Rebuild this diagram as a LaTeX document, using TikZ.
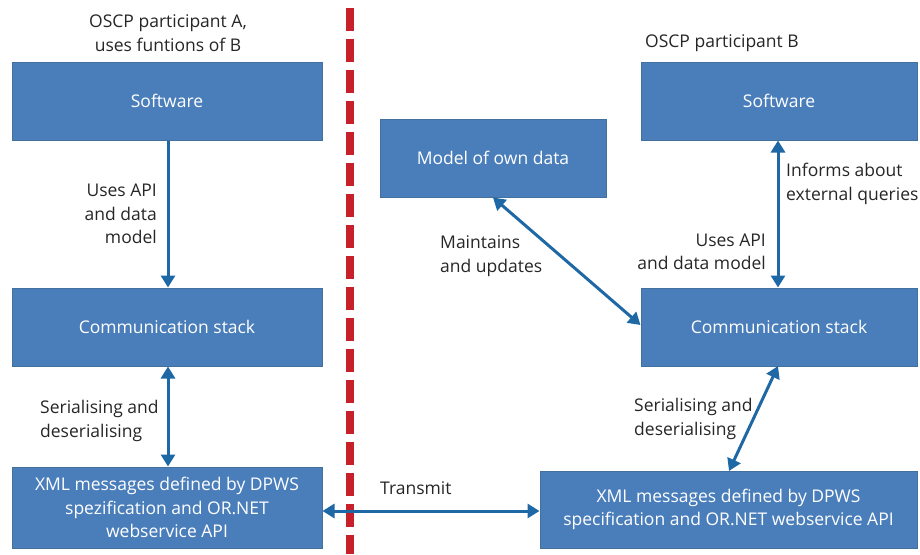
\documentclass[tikz,border=0pt]{standalone}
\usepackage{fontspec}
\setmainfont{Open Sans}
\usetikzlibrary{arrows.meta}
\definecolor{boxfill}{HTML}{4A7EBB}
\definecolor{boxline}{HTML}{41719C}
\definecolor{arrowblue}{HTML}{1E69A5}
\definecolor{borderred}{HTML}{C8202A}
\tikzset{
  box/.style={draw=boxline, fill=boxfill, line width=1pt, text=white, align=center, inner sep=0pt},
  lbl/.style={text=black!85, inner sep=0pt},
  link/.style={arrowblue, line width=3pt, -{Triangle[length=12pt, width=14pt]}},
  dlink/.style={arrowblue, line width=3pt, {Triangle[length=12pt, width=14pt]}-{Triangle[length=12pt, width=14pt]}},
}
\begin{document}
\begin{tikzpicture}
% 1 unit = 1 px of the 920x554 reference, y grows downwards
[x=1pt, y=-1pt, font=\fontsize{17.5}{23.5}\selectfont]
\useasboundingbox (0,0) rectangle (920,554);
% participant A
\node[lbl, align=center] (titleA) at (168,33) {OSCP participant A,\\uses funtions of B};
\node[box, minimum width=310pt, minimum height=78pt] (swA) at (167,101) {Software};
\node[box, minimum width=310pt, minimum height=78pt] (csA) at (167,327) {Communication stack};
\node[box, minimum width=310pt, minimum height=81pt] (xmlA) at (167,507.5)
  {XML messages defined by DPWS\\spezification and OR.NET\\webservice API};
% participant B
\node[lbl, anchor=west] (titleB) at (645,43) {OSCP participant B};
\node[box, minimum width=226pt, minimum height=78pt] (model) at (493,158) {Model of own data};
\node[box, minimum width=276pt, minimum height=78pt] (swB) at (779,101) {Software};
\node[box, minimum width=276pt, minimum height=78pt] (csB) at (779,327) {Communication stack};
\node[box, minimum width=377pt, minimum height=77pt] (xmlB) at (728.5,509.5)
  {XML messages defined by DPWS\\specification and OR.NET webservice API};
% border between the participants
\draw[borderred, line width=8pt, dash pattern=on 23pt off 8pt] (350,8) -- (350,554);
% connectors of A
\draw[link] (swA.south -| 168,0) -- (csA.north -| 168,0);
\draw[dlink] (csA.south -| 168,0) -- (xmlA.north -| 168,0);
\node[lbl, align=right, anchor=east] (apiA) at (157,214) {Uses API\\and data\\model};
\node[lbl, align=left, anchor=west] (serA) at (40,421) {Serialising and\\deserialising};
% transmission
\draw[dlink] (xmlA.east |- 0,511) -- (xmlB.west |- 0,511);
\node[lbl, anchor=west] (transmit) at (380,488) {Transmit};
% connectors of B
\draw[dlink] (model.south -| 493,0) -- (csB.west |- 0,325);
\node[lbl, align=left, anchor=west] (maint) at (440,256) {Maintains\\and updates};
\draw[dlink] (swB.south -| 778,0) -- (csB.north -| 778,0);
\node[lbl, align=left, anchor=west] (informs) at (786,184) {Informs about\\external queries};
\node[lbl, align=right, anchor=east] (apiB) at (766,252) {Uses API\\and data model};
\coordinate (csBbot) at (778,366);
\coordinate (xmlBtop) at (729,471);
\draw[dlink] (csBbot) -- (xmlBtop);
\node[lbl, align=left, anchor=west] (serB) at (634,419) {Serialising and\\deserialising};
\end{tikzpicture}
\end{document}
